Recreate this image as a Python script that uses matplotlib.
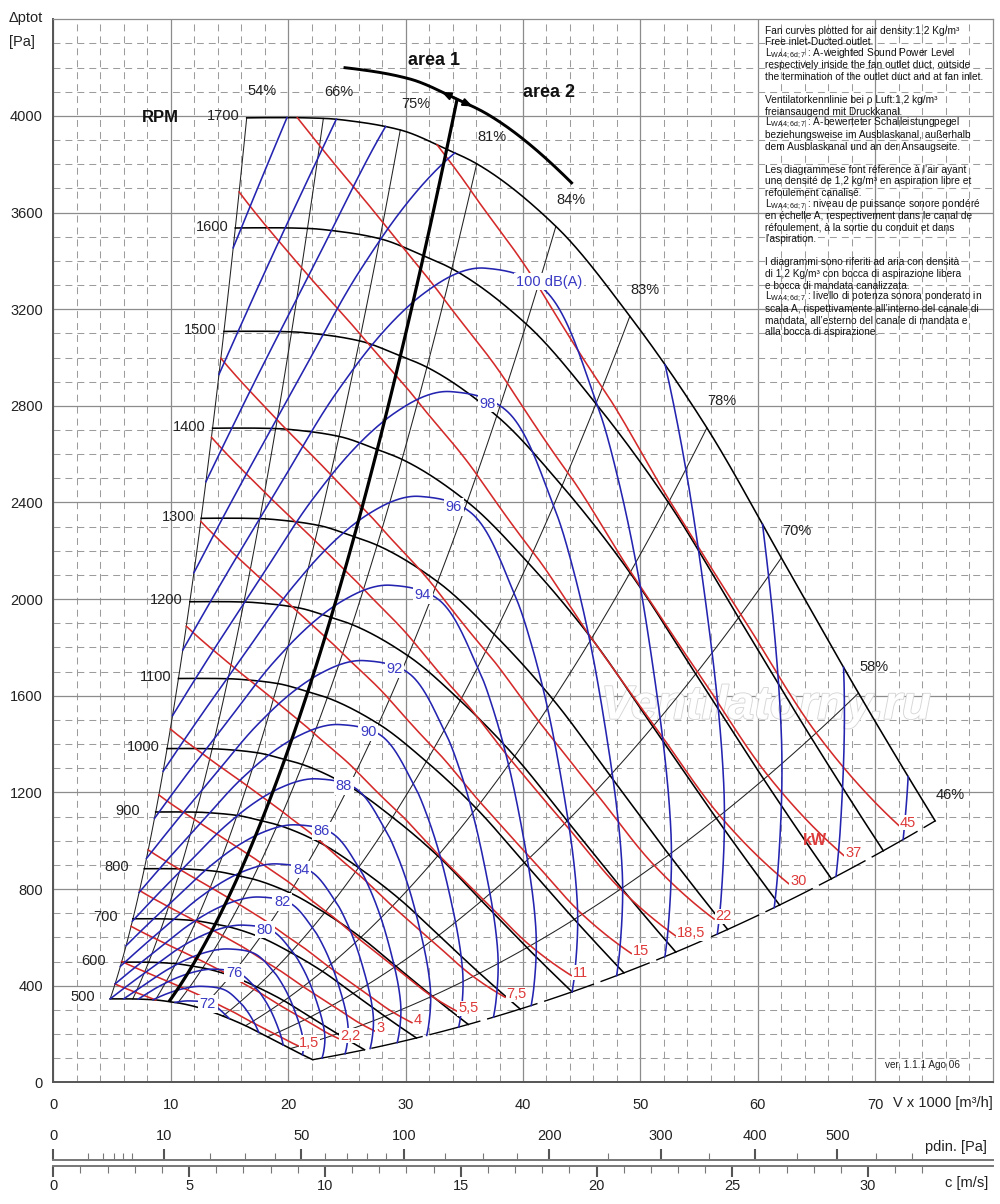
import numpy as np
import matplotlib
matplotlib.use("Agg")
import matplotlib.pyplot as plt
from matplotlib import patheffects as pe

plt.rcParams['font.family'] = ['Liberation Sans', 'DejaVu Sans']
plt.rcParams['mathtext.fontset'] = 'custom'
plt.rcParams['mathtext.rm'] = 'Liberation Sans'
plt.rcParams['mathtext.it'] = 'Liberation Sans:italic'
plt.rcParams['lines.scale_dashes'] = False

# ---------------------------------------------------------------- data
RPM = [500, 600, 700, 800, 900, 1000, 1100, 1200, 1300, 1400, 1500, 1600, 1700]
REF_RPM = 1700
# fan curve at 1700 rpm (V x1000 m3/h, total pressure Pa)
CURVE_V = [16.47, 20.0, 23.0, 26.0, 29.55, 33.5, 36.06, 42.8, 49.1, 55.66, 62.0, 68.57, 75.1]
CURVE_P = [3992, 3993, 3990, 3975, 3942, 3862, 3802, 3543, 3171, 2709, 2171, 1611, 1082]
# efficiency lines: where they meet the 1700 rpm curve
EFF_VALUES = [54, 66, 75, 81, 84, 83, 78, 70, 58, 46]
EFF_LABELS = ['54%', '66%', '75%', '81%', '84%', '83%', '78%', '70%', '58%', '46%']
EFF_V = [16.47, 23.0, 29.55, 36.06, 42.8, 49.1, 55.66, 62.0, 68.57, 75.1]
# absorbed power lines (kW)
KW_LEVELS = [1.1, 1.5, 2.2, 3, 4, 5.5, 7.5, 11, 15, 18.5, 22, 30, 37, 45]
KW_LABELS = ['', '1,5', '2,2', '3', '4', '5,5', '7,5', '11', '15', '18,5', '22', '30', '37', '45']
# sound power level lines dB(A)
DB_LEVELS = [72, 74, 76, 78, 80, 82, 84, 86, 88, 90, 92, 94, 96, 98, 100, 102, 104, 106, 108]
DB_LABELS = {72: '72', 76: '76', 80: '80', 82: '82', 84: '84', 86: '86', 88: '88',
             90: '90', 92: '92', 94: '94', 96: '96', 98: '98', 100: '100 dB(A)'}
# sound level read along the 1700 rpm curve, and its speed exponent
SOUND_V = [16.47, 19.9, 24.1, 28.3, 34.2, 38.6, 43.5, 49.4, 52.1, 60.4, 67.3, 72.8, 75.1]
SOUND_L = [109.76, 108, 106, 104, 102, 101.2, 100.85, 101.5, 102, 104, 106, 108, 108.9]
SOUND_EXP = 56
# area 1 / area 2 boundary
AREA_LINE_V = 33.5
AREA_ARC_RPM = 1745
AREA_ARC_V = [24.2, 43.0]
# secondary scales
AIR_DENSITY = 1.2
OUTLET_AREA = 0.6425
PDIN_MAJOR = [0, 10, 50, 100, 200, 300, 400, 500]
PDIN_MINOR = [1, 2, 3, 4, 5, 20, 30, 40, 60, 70, 80, 90, 125, 150, 175, 250, 350, 450, 550, 600]
C_MAJOR = [0, 5, 10, 15, 20, 25, 30]
C_MINOR = [1, 2, 3, 4, 6, 7, 8, 9, 11, 12, 13, 14, 16, 17, 18, 19, 21, 22, 23, 24,
           26, 27, 28, 29, 31, 32]
X_TICKS = [0, 10, 20, 30, 40, 50, 60, 70]
Y_TICKS = [0, 400, 800, 1200, 1600, 2000, 2400, 2800, 3200, 3600, 4000]

SUB = r"L$_{\mathrm{WA4;6d;7}}$"
NOTE_LINES = [
    "Fan curves plotted for air density:1,2 Kg/m³",
    "Free inlet-Ducted outlet.",
    SUB + " : A-weighted Sound Power Level",
    "respectively inside the fan outlet duct, outside",
    "the termination of the outlet duct and at fan inlet.",
    "",
    "Ventilatorkennlinie bei ρ Luft:1,2 kg/m³",
    "freiansaugend mit Druckkanal.",
    SUB + " : A-bewerteter Schalleistungpegel",
    "beziehungsweise im Ausblaskanal, außerhalb",
    "dem Ausblaskanal und an der Ansaugseite.",
    "",
    "Les diagrammese font réference à l’air ayant",
    "une densité de 1,2 kg/m³ en aspiration libre et",
    "refoulement canalisé.",
    SUB + " : niveau de puissance sonore pondéré",
    "en échelle A, respectivement dans le canal de",
    "réfoulement, à la sortie du conduit et dans",
    "l’aspiration.",
    "",
    "I diagrammi sono riferiti ad aria con densità",
    "di 1,2 Kg/m³ con bocca di aspirazione libera",
    "e bocca di mandata canalizzata.",
    SUB + " : livello di potenza sonora ponderato in",
    "scala A, rispettivamente all’interno del canale di",
    "mandata, all’esterno del canale di mandata e",
    "alla bocca di aspirazione.",
]

BLUE = '#2424b0'
BLUE_T = '#3a3ac4'
RED = '#d42a2a'
RED_T = '#dd3a3a'
TXT = '#222222'


# ---------------------------------------------------------------- helpers
def pchip(xk, yk, xq):
    xk = np.asarray(xk, float)
    yk = np.asarray(yk, float)
    xq = np.asarray(xq, float)
    h = np.diff(xk)
    d = np.diff(yk) / h
    n = len(xk)
    m = np.zeros(n)
    for k in range(1, n - 1):
        if d[k - 1] * d[k] > 0:
            w1 = 2 * h[k] + h[k - 1]
            w2 = h[k] + 2 * h[k - 1]
            m[k] = (w1 + w2) / (w1 / d[k - 1] + w2 / d[k])

    def end(h0, h1, d0, d1):
        s = ((2 * h0 + h1) * d0 - h0 * d1) / (h0 + h1)
        if np.sign(s) != np.sign(d0):
            s = 0.0
        elif np.sign(d0) != np.sign(d1) and abs(s) > abs(3 * d0):
            s = 3 * d0
        return s

    m[0] = end(h[0], h[1], d[0], d[1])
    m[-1] = end(h[-1], h[-2], d[-1], d[-2])
    i = np.clip(np.searchsorted(xk, xq) - 1, 0, n - 2)
    t = (xq - xk[i]) / h[i]
    return ((2 * t**3 - 3 * t**2 + 1) * yk[i] + (t**3 - 2 * t**2 + t) * h[i] * m[i]
            + (-2 * t**3 + 3 * t**2) * yk[i + 1] + (t**3 - t**2) * h[i] * m[i + 1])


def vp(ph, n):
    ph = np.asarray(ph, float)
    r = np.asarray(n, float) / REF_RPM
    return ph * r, pchip(CURVE_V, CURVE_P, ph) * r**2


def segments(phi, n, lo=min(RPM), hi=max(RPM)):
    inside = (n >= lo) & (n <= hi)
    out = []
    N = len(phi)
    i = 0
    while i < N:
        if not inside[i]:
            i += 1
            continue
        j = i
        while j + 1 < N and inside[j + 1]:
            j += 1
        ph = list(phi[i:j + 1])
        nn = list(n[i:j + 1])
        if i > 0:
            b = lo if n[i - 1] < lo else hi
            t = (b - n[i - 1]) / (n[i] - n[i - 1])
            ph.insert(0, phi[i - 1] + t * (phi[i] - phi[i - 1]))
            nn.insert(0, b)
        if j < N - 1:
            b = lo if n[j + 1] < lo else hi
            t = (b - n[j]) / (n[j + 1] - n[j])
            ph.append(phi[j] + t * (phi[j + 1] - phi[j]))
            nn.append(b)
        out.append((np.array(ph), np.array(nn)))
        i = j + 1
    return out


def v_from_c(c):
    return np.asarray(c, float) * OUTLET_AREA * 3.6


def v_from_pdin(p):
    return v_from_c(np.sqrt(2 * np.asarray(p, float) / AIR_DENSITY))


# ---------------------------------------------------------------- figure
W, H = 1000, 1204
fig = plt.figure(figsize=(W / 100, H / 100), dpi=100)
L_PX, R_PX, T_PX, B_PX = 53.3, 992.7, 19.3, 1082.3
ax = fig.add_axes([L_PX / W, 1 - B_PX / H, (R_PX - L_PX) / W, (B_PX - T_PX) / H])
ax.set_xlim(0, 80)
ax.set_ylim(0, 4400)


def fx(px):
    return px / W


def fy(py):
    return 1 - py / H


# grid
ax.set_xticks(X_TICKS)
ax.set_xticks([v for v in np.arange(2, 80, 2) if v % 10 != 0], minor=True)
ax.set_yticks(Y_TICKS)
ax.set_yticks([v for v in np.arange(100, 4400, 100) if v % 400 != 0], minor=True)
ax.set_axisbelow(True)
ax.grid(which='major', color='#8c8c8c', lw=0.9, ls='-')
ax.grid(which='minor', color='#9c9c9c', lw=0.75, ls=(0, (5, 3.6)))
ax.tick_params(which='both', length=0)
ax.tick_params(axis='x', which='major', pad=11, labelsize=10.5, labelcolor=TXT)
ax.tick_params(axis='y', which='major', pad=7.5, labelsize=10.5, labelcolor=TXT)
for s in ['left', 'bottom']:
    ax.spines[s].set_color('#555555')
    ax.spines[s].set_linewidth(1.4)
for s in ['top', 'right']:
    ax.spines[s].set_color('#8c8c8c')
    ax.spines[s].set_linewidth(0.9)

phi = np.linspace(CURVE_V[0], CURVE_V[-1], 3000)
p_ref = pchip(CURVE_V, CURVE_P, phi)
eta = pchip(EFF_V, EFF_VALUES, phi) / 100.0
P_ref = phi * p_ref / 3600.0 / eta
L_ref = pchip(SOUND_V, SOUND_L, phi)
k_bottom = CURVE_P[-1] / CURVE_V[-1] ** 2

# efficiency lines
n_line = np.linspace(min(RPM), max(RPM), 120)
for lab, ve in zip(EFF_LABELS, EFF_V):
    V, p = vp(np.full_like(n_line, ve), n_line)
    if lab == '46%':
        ax.plot(V, p, color='black', lw=1.0, ls=(0, (38, 5)), zorder=2)
    else:
        ax.plot(V, p, color='#222222', lw=0.75, zorder=2)
    pt = vp(ve, REF_RPM)
    ax.annotate(lab, xy=(float(pt[0]), float(pt[1])), xytext=(11, 19),
                textcoords='offset points', ha='center', va='center',
                fontsize=10.5, color=TXT, zorder=7)

# rpm curves
for n in RPM:
    V, p = vp(phi, n)
    ax.plot(V, p, color='black', lw=1.15, zorder=3)
    ax.annotate(str(n), xy=(V[0], p[0]), xytext=(-5 if n >= 1000 else -11, 1),
                textcoords='offset points', ha='right', va='center',
                fontsize=10.5, color=TXT, zorder=7)

# power lines
for P, lab in zip(KW_LEVELS, KW_LABELS):
    n_p = REF_RPM * (P / P_ref) ** (1.0 / 3.0)
    for ph, nn in segments(phi, n_p):
        V, p = vp(ph, nn)
        if ph[-1] >= CURVE_V[-1] - 1e-6:
            gap = p - k_bottom * V**2
            keep = np.where(gap >= 68)[0]
            last = keep[-1] if len(keep) else len(V) - 1
            V, p = V[:last + 1], p[:last + 1]
            if lab:
                ax.annotate(lab, xy=(V[-1], p[-1]), xytext=(1.0, 2),
                            textcoords='offset points', ha='left', va='center',
                            fontsize=10.5, color=RED_T, zorder=7,
                            bbox=dict(boxstyle='square,pad=0.05', fc='white', ec='none'))
        ax.plot(V, p, color=RED, lw=1.15, zorder=3)

# sound lines
LABEL_PHI = 41.0
for c in DB_LEVELS:
    n_s = REF_RPM * 10 ** ((c - L_ref) / SOUND_EXP)
    for ph, nn in segments(phi, n_s):
        V, p = vp(ph, nn)
        ax.plot(V, p, color=BLUE, lw=1.15, zorder=4)
    if c in DB_LABELS:
        nl = REF_RPM * 10 ** ((c - float(pchip(SOUND_V, SOUND_L, LABEL_PHI))) / SOUND_EXP)
        xl, yl = vp(LABEL_PHI, nl)
        ax.annotate(DB_LABELS[c], xy=(float(xl), float(yl)),
                    xytext=(0, -6.0 * nl / REF_RPM), textcoords='offset points',
                    ha='left', va='center', fontsize=10.5, color=BLUE_T, zorder=8,
                    bbox=dict(boxstyle='square,pad=0.12', fc='white', ec='none'))

# area boundary
n_thick = np.linspace(min(RPM), AREA_ARC_RPM, 100)
V, p = vp(np.full_like(n_thick, AREA_LINE_V), n_thick)
ax.plot(V, p, color='black', lw=2.3, zorder=5, solid_capstyle='butt')
ph_arc = np.linspace(AREA_ARC_V[0], AREA_ARC_V[1], 200)
Va, pa = vp(ph_arc, AREA_ARC_RPM)
ax.plot(Va, pa, color='black', lw=2.1, zorder=5)
cx, cy = vp(AREA_LINE_V, AREA_ARC_RPM)
lx, ly = vp(AREA_LINE_V - 1.3, AREA_ARC_RPM)
rx, ry = vp(AREA_LINE_V + 1.3, AREA_ARC_RPM)
for tx, ty in [(lx, ly), (rx, ry)]:
    ax.annotate('', xy=(float(tx), float(ty)), xytext=(float(cx), float(cy)),
                arrowprops=dict(arrowstyle='-|>,head_length=0.55,head_width=0.22',
                                color='black', lw=1.5, shrinkA=0, shrinkB=0), zorder=6)
ax.text(32.4, 4228, 'area 1', fontsize=13, fontweight='bold', ha='center', va='center',
        color='#111111', zorder=7)
ax.text(42.2, 4098, 'area 2', fontsize=13, fontweight='bold', ha='center', va='center',
        color='#111111', zorder=7)
ax.text(9.1, 3995, 'RPM', fontsize=12, fontweight='bold', ha='center', va='center',
        color='#111111', zorder=7)
ax.text(64.9, 1000, 'kW', fontsize=11.5, fontweight='bold', ha='center', va='center',
        color=RED_T, zorder=7)

# watermark
ax.text(60.7, 1505, 'Ventilatorny.ru', fontsize=34, style='italic', fontweight='bold',
        ha='center', va='baseline', color='white', zorder=1.5,
        path_effects=[pe.withStroke(linewidth=1.3, foreground='#d6d6d6')])

ax.text(0.965, 0.012, 'ver. 1.1.1 Ago 06', transform=ax.transAxes, fontsize=7.2,
        ha='right', va='bottom', color=TXT, zorder=7)

# notes
y0 = 30.5
for i, line in enumerate(NOTE_LINES):
    if line:
        fig.text(fx(765), fy(y0 + i * 11.6), line, fontsize=7.3, ha='left',
                 va='center', color='#111111')

# axis titles
fig.text(fx(9), fy(18), 'Δptot', fontsize=10.5, ha='left', va='center', color=TXT)
fig.text(fx(9), fy(42), '[Pa]', fontsize=10.5, ha='left', va='center', color=TXT)
fig.text(fx(993), fy(1103), 'V x 1000 [m³/h]', fontsize=10.5, ha='right', va='center',
         color=TXT)

# pdin scale
axp = fig.add_axes([L_PX / W, fy(1160), (R_PX - L_PX) / W, 1e-5])
axp.set_xlim(0, 80)
axp.patch.set_visible(False)
for s in ['left', 'right', 'bottom']:
    axp.spines[s].set_visible(False)
axp.spines['top'].set_color('#777777')
axp.spines['top'].set_linewidth(1.4)
axp.set_yticks([])
axp.xaxis.tick_top()
axp.set_xticks(v_from_pdin(PDIN_MAJOR))
axp.set_xticklabels([str(v) for v in PDIN_MAJOR])
axp.set_xticks(v_from_pdin(PDIN_MINOR), minor=True)
axp.tick_params(axis='x', which='major', direction='out', length=8, width=1.5,
                color='#555555', pad=4, labelsize=10.5, labelcolor=TXT)
axp.tick_params(axis='x', which='minor', direction='out', length=5, width=0.8,
                color='#777777')
fig.text(fx(987), fy(1147), 'pdin. [Pa]', fontsize=10.5, ha='right', va='center',
         color=TXT)

# velocity scale
axc = fig.add_axes([L_PX / W, fy(1166), (R_PX - L_PX) / W, 1e-5])
axc.set_xlim(0, 80)
axc.patch.set_visible(False)
for s in ['left', 'right', 'top']:
    axc.spines[s].set_visible(False)
axc.spines['bottom'].set_color('#777777')
axc.spines['bottom'].set_linewidth(1.4)
axc.set_yticks([])
axc.set_xticks(v_from_c(C_MAJOR))
axc.set_xticklabels([str(v) for v in C_MAJOR])
axc.set_xticks(v_from_c(C_MINOR), minor=True)
axc.tick_params(axis='x', which='major', direction='out', length=8, width=1.5,
                color='#555555', pad=1.5, labelsize=10.5, labelcolor=TXT)
axc.tick_params(axis='x', which='minor', direction='out', length=5, width=0.8,
                color='#777777')
fig.text(fx(988), fy(1183), 'c [m/s]', fontsize=10.5, ha='right', va='center',
         color=TXT)

fig.savefig('out.png', dpi=100)
